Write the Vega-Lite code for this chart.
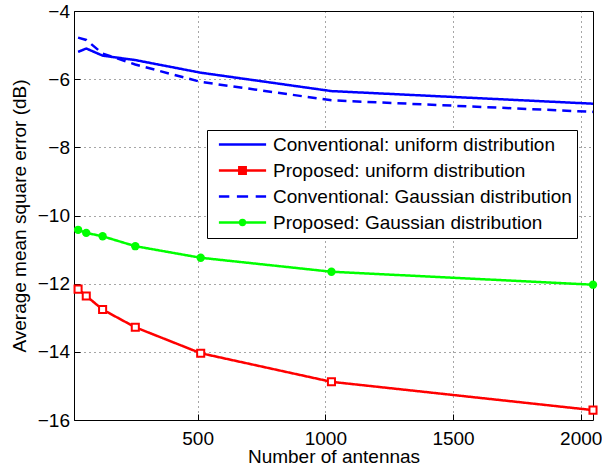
{
  "$schema": "https://vega.github.io/schema/vega-lite/v6.json",
  "width": 519,
  "height": 409,
  "autosize": {"type": "none"},
  "padding": {"left": 74, "top": 11, "right": 9, "bottom": 46},
  "background": "white",
  "config": {
    "font": "Liberation Sans",
    "view": {"stroke": "black", "strokeWidth": 1},
    "axis": {
      "labelFont": "Liberation Sans",
      "labelFontSize": 19,
      "labelColor": "black",
      "titleFont": "Liberation Sans",
      "titleFontSize": 19,
      "titleFontWeight": "normal",
      "titleColor": "black",
      "domain": false,
      "grid": true,
      "gridColor": "black",
      "gridDash": [1, 4],
      "gridOpacity": 0.7,
      "gridWidth": 1,
      "tickColor": "black",
      "tickSize": -6,
      "tickWidth": 1
    },
    "legend": {
      "labelFont": "Liberation Sans",
      "labelFontSize": 19,
      "labelColor": "black",
      "fillColor": "white",
      "strokeColor": "black",
      "padding": 5,
      "rowPadding": 6,
      "symbolSize": 256,
      "symbolStrokeWidth": 2.5,
      "symbolOffset": 21,
      "labelOffset": 21,
      "labelLimit": 500,
      "cornerRadius": 0
    }
  },
  "data": {
    "values": [
      {"series": "Conventional: uniform distribution", "n": 32, "mse": -5.20},
      {"series": "Conventional: uniform distribution", "n": 64, "mse": -5.10},
      {"series": "Conventional: uniform distribution", "n": 128, "mse": -5.31},
      {"series": "Conventional: uniform distribution", "n": 256, "mse": -5.44},
      {"series": "Conventional: uniform distribution", "n": 512, "mse": -5.81},
      {"series": "Conventional: uniform distribution", "n": 1024, "mse": -6.35},
      {"series": "Conventional: uniform distribution", "n": 2048, "mse": -6.72},
      {"series": "Proposed: uniform distribution", "n": 32, "mse": -12.16},
      {"series": "Proposed: uniform distribution", "n": 64, "mse": -12.36},
      {"series": "Proposed: uniform distribution", "n": 128, "mse": -12.76},
      {"series": "Proposed: uniform distribution", "n": 256, "mse": -13.28},
      {"series": "Proposed: uniform distribution", "n": 512, "mse": -14.04},
      {"series": "Proposed: uniform distribution", "n": 1024, "mse": -14.88},
      {"series": "Proposed: uniform distribution", "n": 2048, "mse": -15.71},
      {"series": "Conventional: Gaussian distribution", "n": 32, "mse": -4.78},
      {"series": "Conventional: Gaussian distribution", "n": 64, "mse": -4.85},
      {"series": "Conventional: Gaussian distribution", "n": 128, "mse": -5.25},
      {"series": "Conventional: Gaussian distribution", "n": 256, "mse": -5.57},
      {"series": "Conventional: Gaussian distribution", "n": 512, "mse": -6.08},
      {"series": "Conventional: Gaussian distribution", "n": 1024, "mse": -6.62},
      {"series": "Conventional: Gaussian distribution", "n": 2048, "mse": -6.96},
      {"series": "Proposed: Gaussian distribution", "n": 32, "mse": -10.42},
      {"series": "Proposed: Gaussian distribution", "n": 64, "mse": -10.51},
      {"series": "Proposed: Gaussian distribution", "n": 128, "mse": -10.61},
      {"series": "Proposed: Gaussian distribution", "n": 256, "mse": -10.90},
      {"series": "Proposed: Gaussian distribution", "n": 512, "mse": -11.24},
      {"series": "Proposed: Gaussian distribution", "n": 1024, "mse": -11.65},
      {"series": "Proposed: Gaussian distribution", "n": 2048, "mse": -12.03}
    ]
  },
  "encoding": {
    "x": {
      "field": "n",
      "type": "quantitative",
      "scale": {"domain": [16, 2048], "nice": false, "zero": false},
      "axis": {
        "title": "Number of antennas",
        "values": [500, 1000, 1500, 2000],
        "format": "d",
        "labelPadding": 15,
        "titleY": 42,
        "titleBaseline": "alphabetic"
      }
    },
    "y": {
      "field": "mse",
      "type": "quantitative",
      "scale": {"domain": [-16, -4], "nice": false, "zero": false},
      "axis": {
        "title": "Average mean square error (dB)",
        "values": [-16, -14, -12, -10, -8, -6, -4],
        "labelPadding": 10.5,
        "titleX": -49,
        "titleBaseline": "alphabetic"
      }
    }
  },
  "layer": [
    {
      "mark": {"type": "line", "strokeWidth": 2.5},
      "encoding": {
        "color": {
          "field": "series",
          "type": "nominal",
          "scale": {
            "domain": ["Proposed: Gaussian distribution", "Conventional: Gaussian distribution", "Proposed: uniform distribution", "Conventional: uniform distribution"],
            "range": ["#00ff00", "#0000ff", "#ff0000", "#0000ff"]
          },
          "legend": null
        },
        "strokeDash": {
          "field": "series",
          "type": "nominal",
          "scale": {
            "domain": ["Proposed: uniform distribution", "Conventional: uniform distribution", "Proposed: Gaussian distribution", "Conventional: Gaussian distribution"],
            "range": [[1, 0], [1, 0], [1, 0], [9, 6]]
          },
          "legend": null
        }
      }
    },
    {
      "transform": [{"filter": "datum.series === 'Proposed: uniform distribution'"}],
      "mark": {"type": "point", "shape": "square", "size": 50, "stroke": "#ff0000", "strokeWidth": 2, "fill": "white", "filled": false, "opacity": 1}
    },
    {
      "transform": [{"filter": "datum.series === 'Proposed: Gaussian distribution'"}],
      "mark": {"type": "point", "shape": "circle", "size": 70, "fill": "#00ff00", "filled": true, "opacity": 1}
    },
    {
      "transform": [{"filter": "false"}],
      "mark": {"type": "point", "filled": false},
      "encoding": {
        "shape": {
          "field": "series",
          "type": "nominal",
          "scale": {
            "domain": ["Conventional: uniform distribution", "Proposed: uniform distribution", "Conventional: Gaussian distribution", "Proposed: Gaussian distribution"],
            "range": [
              "M-2.95,0H2.95",
              "M-2.95,0H2.95M-0.4,-0.4H0.4V0.4H-0.4Z",
              "M-2.95,0H-1.65M-0.7,0H0.7M1.65,0H2.95",
              "M-2.95,0H2.95M0.3,0A0.3,0.3 0 1,1 -0.3,0A0.3,0.3 0 1,1 0.3,0Z"
            ]
          },
          "legend": {"title": null, "orient": "none", "legendX": 133, "legendY": 119, "symbolOpacity": 1}
        },
        "stroke": {
          "field": "series",
          "type": "nominal",
          "scale": {
            "domain": ["Conventional: uniform distribution", "Proposed: uniform distribution", "Conventional: Gaussian distribution", "Proposed: Gaussian distribution"],
            "range": ["#0000ff", "#ff0000", "#0000ff", "#00ff00"]
          },
          "legend": {"title": null, "orient": "none", "legendX": 133, "legendY": 119, "symbolOpacity": 1}
        },
        "fill": {
          "field": "series",
          "type": "nominal",
          "scale": {
            "domain": ["Conventional: uniform distribution", "Proposed: uniform distribution", "Conventional: Gaussian distribution", "Proposed: Gaussian distribution"],
            "range": ["transparent", "#ff0000", "transparent", "#00ff00"]
          },
          "legend": {"title": null, "orient": "none", "legendX": 133, "legendY": 119, "symbolOpacity": 1}
        }
      }
    }
  ]
}
